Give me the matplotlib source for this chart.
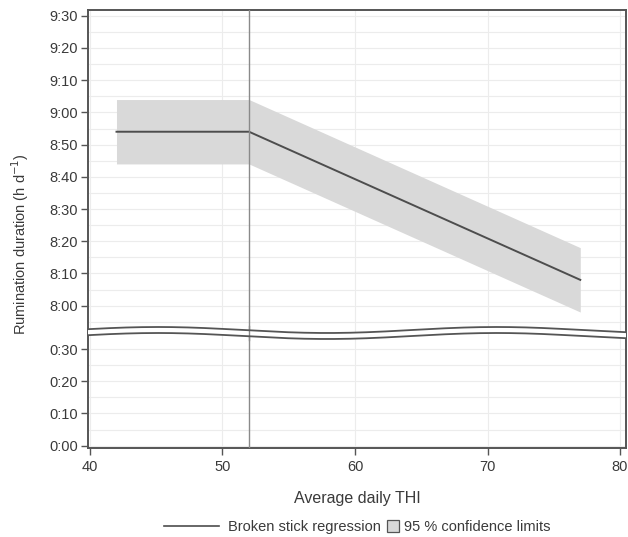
import numpy as np
import matplotlib
matplotlib.use("Agg")
import matplotlib.pyplot as plt
from matplotlib.lines import Line2D
from matplotlib.patches import Patch, Polygon
from matplotlib.ticker import FixedLocator, FuncFormatter
import matplotlib.transforms as mtransforms

plt.rcParams['font.family'] = ['Liberation Sans', 'DejaVu Sans']

# broken stick regression (h:mm)
thi = [42, 52, 77]
fit = ["8:54", "8:54", "8:08"]
lower = ["8:44", "8:44", "7:58"]
upper = ["9:04", "9:04", "8:18"]
breakpoint_thi = 52

top_ticks = ["8:00", "8:10", "8:20", "8:30", "8:40", "8:50", "9:00", "9:10", "9:20", "9:30"]
bottom_ticks = ["0:00", "0:10", "0:20", "0:30"]
x_ticks = [40, 50, 60, 70, 80]


def to_min(s):
    h, m = s.split(":")
    return int(h) * 60 + int(m)


def fmt(v, pos=None):
    v = int(round(v))
    return "%d:%02d" % (v // 60, v % 60)


W, H = 628, 537
fig = plt.figure(figsize=(W / 100, H / 100), dpi=100)

left, right = 88 / W, 626 / W
y_top, y_mid, y_bot = 1 - 10 / H, 1 - 333 / H, 1 - 447.5 / H
ax1 = fig.add_axes([left, y_mid, right - left, y_top - y_mid])
ax2 = fig.add_axes([left, y_bot, right - left, y_mid - y_bot])

spine_col = "#555555"
text_col = "#3a3a3a"
grid_col = "#ececec"

ax1.fill_between(thi, [to_min(v) for v in lower], [to_min(v) for v in upper],
                 color="#d9d9d9", lw=0, zorder=2)
ax1.plot(thi, [to_min(v) for v in fit], color="#4d4d4d", lw=1.4, zorder=3)

for ax in (ax1, ax2):
    ax.set_xlim(39.85, 80.45)
    ax.axvline(breakpoint_thi, color="#8a8a8a", lw=1.0, zorder=3)
    ax.set_xticks(x_ticks)
    ax.grid(True, which="both", color=grid_col, lw=0.8, zorder=0)
    ax.set_axisbelow(True)
    for s in ax.spines.values():
        s.set_color(spine_col)
        s.set_linewidth(1.4)
    ax.tick_params(axis="both", colors=spine_col, labelcolor=text_col,
                   labelsize=10.5, length=5, width=1, pad=2)

ax1.set_ylim(471.5, 571.8)
ax1.yaxis.set_major_locator(FixedLocator([to_min(t) for t in top_ticks]))
ax1.yaxis.set_minor_locator(FixedLocator(np.arange(475, 571, 10)))
ax1.yaxis.set_major_formatter(FuncFormatter(fmt))
ax1.tick_params(axis="y", which="minor", length=0)
ax1.tick_params(axis="x", length=0, labelbottom=False)
ax1.spines["bottom"].set_visible(False)

ax2.set_ylim(-0.56, 35.0)
ax2.yaxis.set_major_locator(FixedLocator([to_min(t) for t in bottom_ticks]))
ax2.yaxis.set_minor_locator(FixedLocator([5, 15, 25]))
ax2.yaxis.set_major_formatter(FuncFormatter(fmt))
ax2.tick_params(axis="y", which="minor", length=0)
ax2.tick_params(axis="x", pad=4)
ax2.spines["top"].set_visible(False)
ax2.set_xlabel("Average daily THI", fontsize=11.5, color=text_col, labelpad=12)

# wavy axis break
f = np.linspace(0, 1, 200)
wave = -3 * np.cos(2 * np.pi * (f - 0.13) / 0.63)
xw = left + f * (right - left)
top_wave = 1 - (330 + wave) / H
bot_wave = 1 - (336 + wave) / H
poly = Polygon(np.column_stack([np.r_[xw, xw[::-1]], np.r_[top_wave, bot_wave[::-1]]]),
               closed=True, facecolor="white", edgecolor="none",
               transform=fig.transFigure, zorder=5)
fig.add_artist(poly)
for yw in (top_wave, bot_wave):
    fig.add_artist(Line2D(xw, yw, color=spine_col, lw=1.3,
                          transform=fig.transFigure, zorder=6))
trans = mtransforms.blended_transform_factory(ax1.transData, fig.transFigure)
fig.add_artist(Line2D([breakpoint_thi, breakpoint_thi], [1 - 326 / H, 1 - 340 / H],
                      color="#8a8a8a", lw=1.0, transform=trans, zorder=5.5))

fig.text(20 / W, 1 - 244 / H, r"Rumination duration (h d$^{-1}$)", rotation=90,
         ha="center", va="center", fontsize=10.5, color=text_col)

leg_y = 1 - 527 / H
fig.legend([Line2D([], [], color="#4d4d4d", lw=1.2)], ["Broken stick regression"],
           loc="center right", bbox_to_anchor=(381 / W, leg_y), frameon=False,
           fontsize=10.5, handlelength=3.8, handletextpad=0.6, labelcolor=text_col,
           borderaxespad=0, borderpad=0)
fig.legend([Patch(facecolor="#d9d9d9", edgecolor="#555555", lw=0.9)],
           ["95 % confidence limits"],
           loc="center left", bbox_to_anchor=(387 / W, leg_y), frameon=False,
           fontsize=10.5, handlelength=0.8, handleheight=0.8, handletextpad=0.4,
           labelcolor=text_col, borderaxespad=0, borderpad=0)

fig.savefig("out.png", dpi=100)
